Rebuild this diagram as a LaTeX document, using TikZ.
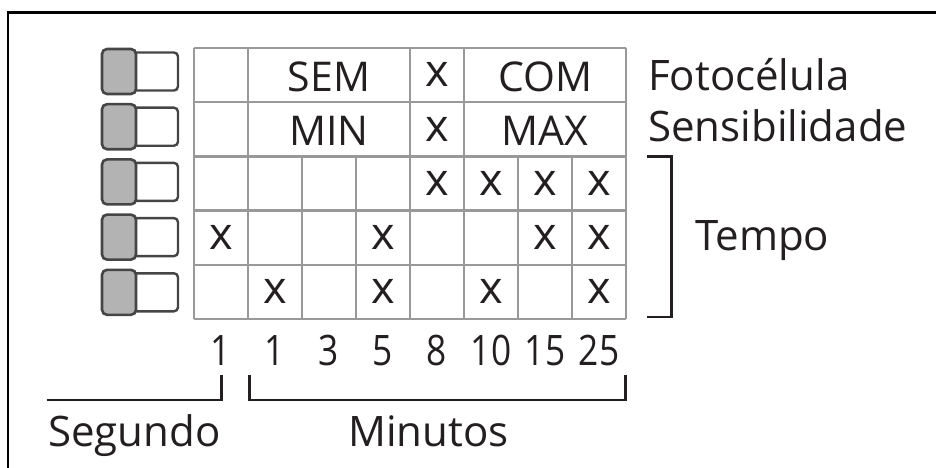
\documentclass[tikz,border=0pt]{standalone}
\usepackage{fontspec}
\setmainfont{Open Sans}
\begin{document}
\begin{tikzpicture}[x=1pt,y=-1pt,
  gridline/.style={draw=gridgray,line width=2.4pt},
  bracketline/.style={draw=inkdark,line width=2.8pt},
  celltxt/.style={anchor=base,inner sep=0pt,text=inkdark,font=\fontsize{41}{48}\selectfont},
  marktxt/.style={anchor=base,inner sep=0pt,text=inkdark,font=\fontsize{45}{50}\selectfont},
  lbltxt/.style={anchor=base west,inner sep=0pt,text=inkdark,font=\fontsize{42}{50}\selectfont},
  numtxt/.style={anchor=base,inner sep=0pt,text=inkdark,xscale=0.84,font=\fontsize{42}{50}\selectfont},
  swgray/.style={fill=swfill,draw=swline,line width=2.6pt,rounded corners=5pt},
  swwhite/.style={fill=white,draw=swline,line width=2.4pt,rounded corners=4pt}]
\definecolor{gridgray}{HTML}{999999}
\definecolor{inkdark}{HTML}{231F20}
\definecolor{swfill}{HTML}{B3B3B3}
\definecolor{swline}{HTML}{454545}
\useasboundingbox (0,0) rectangle (936,468);
% frame
\draw[black,line width=2.6pt] (936,12.5) -- (8,12.5) -- (8,468);
% switches
\foreach \i in {0,...,4}{
  \pgfmathsetmacro{\yt}{49+55.2*\i}
  \draw[swwhite] (128,\yt+3.5) rectangle (178,\yt+41.5);
  \draw[swgray] (102,\yt) rectangle (136,\yt+45);
}
% grid
\foreach \j in {0,...,5}{
  \pgfmathsetmacro{\yy}{48+54.2*\j}
  \draw[gridline] (194,\yy) -- (626,\yy);
}
\foreach \xx in {194,248,410,464,626}{
  \draw[gridline] (\xx,48) -- (\xx,319);
}
\foreach \xx in {302,356,518,572}{
  \draw[gridline] (\xx,156.4) -- (\xx,319);
}
% cell texts
\node[celltxt] (sem) at (329,91.7) {SEM};
\node[celltxt] (com) at (545,91.7) {COM};
\node[celltxt] (min) at (329,146) {MIN};
\node[celltxt] (max) at (545,146) {MAX};
% x marks
\foreach \c/\r [count=\k] in {5/1,5/2,5/3,6/3,7/3,8/3,1/4,4/4,7/4,8/4,2/5,4/5,6/5,8/5}{
  \pgfmathsetmacro{\cx}{194+54*(\c-0.5)}
  \pgfmathsetmacro{\cy}{48+54.2*(\r-1)+39}
  \node[marktxt] (x\k) at (\cx,\cy) {x};
}
% right labels
\node[lbltxt] (foto) at (648,91) {Fotocélula};
\node[lbltxt] (sens) at (648,142) {Sensibilidade};
\node[lbltxt] (tempo) at (695,250.7) {Tempo};
\draw[bracketline] (646.7,156.7) -- (671.7,156.7) -- (671.7,317) -- (646.7,317);
% numbers
\foreach \c/\t [count=\k] in {1/1,2/1,3/3,4/5,5/8,6/10,7/15,8/25}{
  \pgfmathsetmacro{\cx}{194+54*(\c-0.5)}
  \node[numtxt] (n\k) at (\cx,365.5) {\t};
}
% bottom brackets
\draw[bracketline] (46.7,400) -- (221.7,400) -- (221.7,375);
\draw[bracketline] (249.3,375) -- (249.3,400) -- (625.7,400) -- (625.7,375);
\node[lbltxt] (seg) at (48,446.7) {Segundo};
\node[lbltxt] (minu) at (348,446.7) {Minutos};
\end{tikzpicture}
\end{document}
